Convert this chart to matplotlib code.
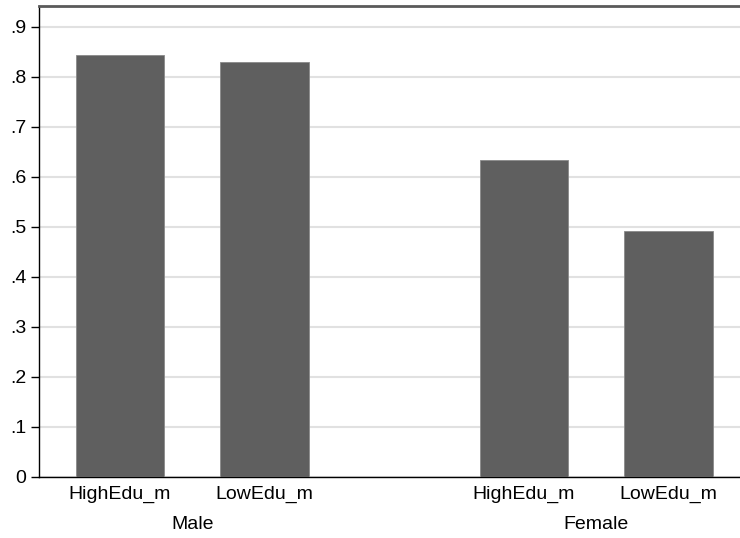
import numpy as np
import matplotlib.pyplot as plt

plt.rcParams['font.family'] = ['Liberation Sans', 'DejaVu Sans']

groups = ['Male', 'Female']
bar_labels = ['HighEdu_m', 'LowEdu_m']
values = {
    'Male': [0.844, 0.830],
    'Female': [0.634, 0.492],
}
yticks = [0, 0.1, 0.2, 0.3, 0.4, 0.5, 0.6, 0.7, 0.8, 0.9]
ytick_labels = ['0', '.1', '.2', '.3', '.4', '.5', '.6', '.7', '.8', '.9']

fig = plt.figure(figsize=(7.4, 5.38), dpi=100)
ax = fig.add_axes([0.0527, 0.1134, 0.9473, 0.8755])

group_step = 2.796  # distance between first bars of the two groups
width = 0.61
xpos = []
xlab = []
for gi, g in enumerate(groups):
    for bi, lab in enumerate(bar_labels):
        x = gi * group_step + bi
        ax.bar(x, values[g][bi], width=width, color='#5f5f5f',
               edgecolor='#8a8a8a', linewidth=0.6, zorder=3)
        xpos.append(x)
        xlab.append(lab)
    ax.text(gi * group_step + 0.5, -0.095, g, ha='center', va='center',
            fontsize=14)

ax.set_xlim(-0.56, group_step + 1 + 0.495)
ax.set_ylim(0, 0.942)
ax.set_xticks(xpos)
ax.set_xticklabels(xlab, fontsize=14)
ax.tick_params(axis='x', length=0, pad=6)
ax.set_yticks(yticks)
ax.set_yticklabels(ytick_labels, fontsize=14)
ax.tick_params(axis='y', length=6, width=1, pad=3)

ax.grid(axis='y', color='#e1e1e1', linewidth=1.5, zorder=0)
ax.spines['right'].set_visible(False)
ax.spines['top'].set_color('#5a5a5a')
ax.spines['top'].set_linewidth(2)
ax.spines['left'].set_linewidth(1)
ax.spines['bottom'].set_linewidth(1)

fig.savefig('out.png', dpi=100)
